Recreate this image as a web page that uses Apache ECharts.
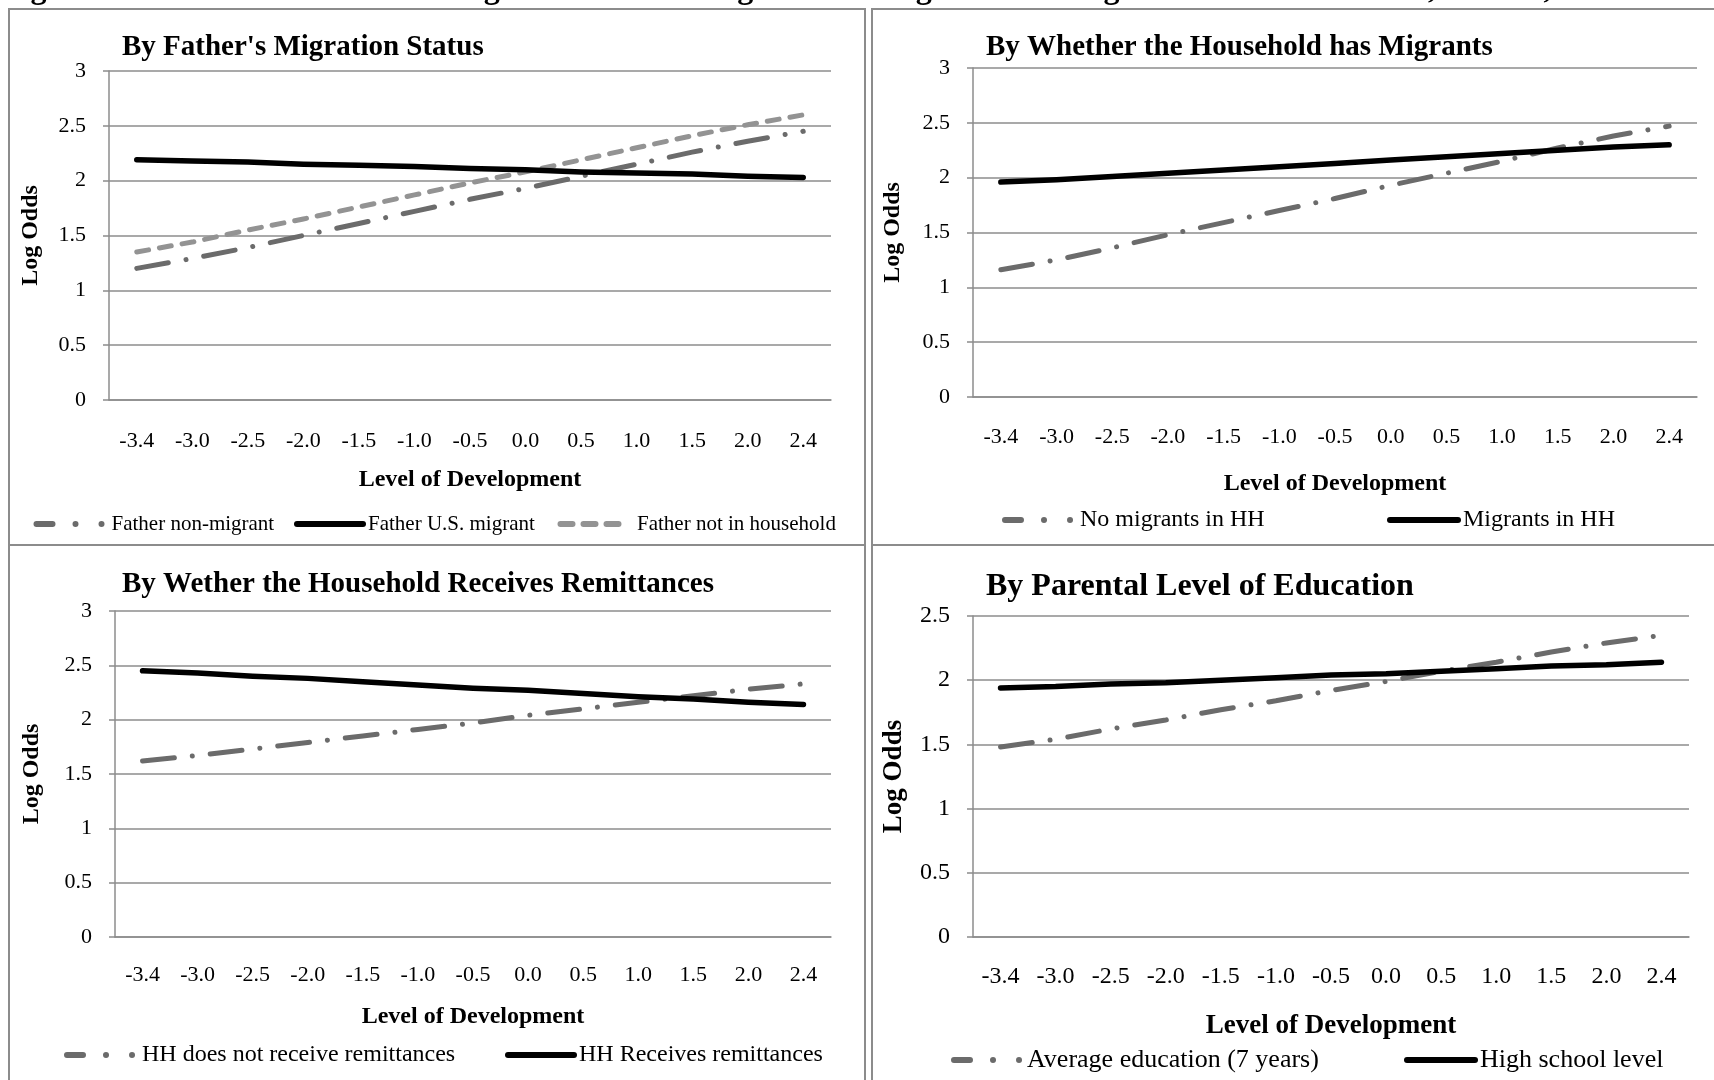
<!DOCTYPE html>
<html><head><meta charset="utf-8">
<script src="https://cdn.jsdelivr.net/npm/echarts@6/dist/echarts.min.js"></script>
<style>html,body{margin:0;padding:0;background:#fff}#c{width:1714px;height:1080px}</style>
</head><body><div id="c"></div><script>
// ---- data ----
const categories = ['-3.4','-3.0','-2.5','-2.0','-1.5','-1.0','-0.5','0.0','0.5','1.0','1.5','2.0','2.4'];
const fatherNonMigrant = [1.20,1.29,1.39,1.50,1.61,1.72,1.83,1.93,2.04,2.15,2.26,2.36,2.45];
const fatherUSMigrant  = [2.19,2.18,2.17,2.15,2.14,2.13,2.11,2.10,2.08,2.07,2.06,2.04,2.03];
const fatherNotInHH    = [1.35,1.44,1.55,1.65,1.76,1.87,1.98,2.08,2.19,2.30,2.41,2.51,2.60];
const noMigrantsHH     = [1.16,1.25,1.36,1.48,1.59,1.70,1.81,1.93,2.04,2.15,2.27,2.38,2.47];
const migrantsHH       = [1.96,1.98,2.01,2.04,2.07,2.10,2.13,2.16,2.19,2.22,2.25,2.28,2.30];
const noRemittances    = [1.62,1.67,1.73,1.79,1.85,1.91,1.97,2.04,2.10,2.16,2.22,2.28,2.33];
const remittances      = [2.45,2.43,2.40,2.38,2.35,2.32,2.29,2.27,2.24,2.21,2.19,2.16,2.14];
const avgEducation     = [1.48,1.54,1.62,1.69,1.77,1.84,1.92,1.99,2.07,2.14,2.22,2.29,2.35];
const highSchool       = [1.94,1.95,1.97,1.98,2.00,2.02,2.04,2.05,2.07,2.09,2.11,2.12,2.14];
const panelTitles = ["By Father's Migration Status","By Whether the Household has Migrants","By Wether the Household Receives Remittances","By Parental Level of Education"];
const yMax = [3,3,3,2.5];
const xName = 'Level of Development';
const yName = 'Log Odds';
const figTitle = 'Figure 3. Interaction Terms and Log Odds of Attaining Same or Higher Schooling than Parents for Girls, Mexico, 2000';

// ---- styles ----
const FF = 'Liberation Serif';
const GRID = '#8c8c8c';
const DARK = '#6b6b6b', LIGHT = '#939393';
const DASHDOT = [32,18,0.01,18];
const DASHED = [12,11];
const LEG_DASHDOT = [16,23,0.01,26,0.01,400];
const LEG_DASHED = [12,11];

const grids = [
  {left:109, top:71, width:722, height:329},
  {left:973, top:68, width:724, height:329},
  {left:115, top:611, width:716, height:326},
  {left:973, top:616, width:716, height:321}
];
const tickFs = [22,22,22,24];
const nameFs = [24,24,24,27];
const xNameGap = [68,75,68,76];
const yNameGap = [66,68,71,65];
const xLabelMargin = [30,29,27,28];

const xAxes = grids.map((g,i)=>({
  type:'category', gridIndex:i, data:categories, boundaryGap:true,
  axisLine:{show:true, lineStyle:{color:GRID, width:1.5}},
  axisTick:{show:false},
  axisLabel:{interval:0, margin:xLabelMargin[i], color:'#000', fontFamily:FF, fontSize:tickFs[i]},
  name:xName, nameLocation:'middle', nameGap:xNameGap[i],
  nameTextStyle:{color:'#000', fontFamily:FF, fontWeight:'bold', fontSize:nameFs[i]},
  splitLine:{show:false}
}));
const yAxes = grids.map((g,i)=>({
  type:'value', gridIndex:i, min:0, max:yMax[i], interval:0.5,
  axisLine:{show:true, lineStyle:{color:GRID, width:1.5}},
  axisTick:{show:true, length:6, lineStyle:{color:GRID, width:1.5}},
  axisLabel:{margin:23, color:'#000', fontFamily:FF, fontSize:tickFs[i]},
  splitLine:{show:true, lineStyle:{color:GRID, width:1.5}},
  name:yName, nameLocation:'middle', nameGap:yNameGap[i],
  nameTextStyle:{color:'#000', fontFamily:FF, fontWeight:'bold', fontSize:nameFs[i]}
}));

function mk(name, data, gi, kind){
  const color = kind==='solid' ? '#000' : (kind==='dashdot' ? DARK : LIGHT);
  const type = kind==='solid' ? 'solid' : (kind==='dashdot' ? DASHDOT : DASHED);
  return {type:'line', name, data, xAxisIndex:gi, yAxisIndex:gi, symbol:'none', showSymbol:false,
    silent:true, animation:false, z: kind==='solid'?3:2,
    itemStyle:{color},
    lineStyle:{color, width: kind==='solid'?5.5:5, type, cap:'round', join:'round'}};
}
const series = [
  mk('Father non-migrant', fatherNonMigrant, 0, 'dashdot'),
  mk('Father U.S. migrant', fatherUSMigrant, 0, 'solid'),
  mk('Father not in household', fatherNotInHH, 0, 'dashed'),
  mk('No migrants in HH', noMigrantsHH, 1, 'dashdot'),
  mk('Migrants in HH', migrantsHH, 1, 'solid'),
  mk('HH does not receive remittances', noRemittances, 2, 'dashdot'),
  mk('HH Receives remittances', remittances, 2, 'solid'),
  mk('Average education (7 years)', avgEducation, 3, 'dashdot'),
  mk('High school level', highSchool, 3, 'solid')
];

function leg(name, left, cy, w, fs, kind, pre){
  const type = kind==='solid' ? 'solid' : (kind==='dashdot' ? LEG_DASHDOT : LEG_DASHED);
  return {data:[name], left, top: cy - fs/2, padding:0, itemWidth:w, itemHeight:16,
    selectedMode:false, orient:'horizontal',
    formatter: pre ? (n => pre + n) : undefined,
    textStyle:{color:'#000', fontFamily:FF, fontSize:fs},
    itemStyle:{opacity:0, borderWidth:0},
    lineStyle:{width:6, type, cap:'round', opacity:1}};
}
const legends = [
  leg('Father non-migrant', 33.5, 524, 70, 21, 'dashdot'),
  leg('Father U.S. migrant', 294, 524, 66, 21, 'solid'),
  leg('Father not in household', 557.5, 524, 61, 21, 'dashed', '  '),
  leg('No migrants in HH', 1002, 520, 70, 24, 'dashdot'),
  leg('Migrants in HH', 1387, 520, 68, 24, 'solid'),
  leg('HH does not receive remittances', 64, 1055, 70, 24, 'dashdot'),
  leg('HH Receives remittances', 505, 1055, 66, 24, 'solid'),
  leg('Average education (7 years)', 951, 1060, 68, 26, 'dashdot'),
  leg('High school level', 1404, 1060, 68, 26, 'solid')
];

const titlePos = [[122,48,29],[986,48,29],[122,585,29],[986,587,32]];
const graphics = [
  {type:'rect', shape:{x:9,y:9,width:856,height:536}, style:{fill:'none', stroke:GRID, lineWidth:2}, silent:true},
  {type:'rect', shape:{x:872,y:9,width:900,height:536}, style:{fill:'none', stroke:GRID, lineWidth:2}, silent:true},
  {type:'rect', shape:{x:9,y:545,width:856,height:600}, style:{fill:'none', stroke:GRID, lineWidth:2}, silent:true},
  {type:'rect', shape:{x:872,y:545,width:900,height:600}, style:{fill:'none', stroke:GRID, lineWidth:2}, silent:true},
  {type:'text', x:2, y:-10, style:{text:figTitle, fill:'#000', font:'bold 32px "'+FF+'"', verticalAlign:'middle', align:'left'}, silent:true}
].concat(panelTitles.map((t,i)=>({type:'text', x:titlePos[i][0], y:titlePos[i][1],
  style:{text:t, fill:'#000', font:'bold '+titlePos[i][2]+'px "'+FF+'"', verticalAlign:'middle', align:'left'}, silent:true})));

const chart = echarts.init(document.getElementById('c'), null, {renderer:'canvas'});
chart.setOption({
  backgroundColor:'#fff', animation:false,
  grid: grids.map(g=>Object.assign({containLabel:false}, g)),
  xAxis:xAxes, yAxis:yAxes, series, legend:legends, graphic:graphics
});
</script></body></html>
